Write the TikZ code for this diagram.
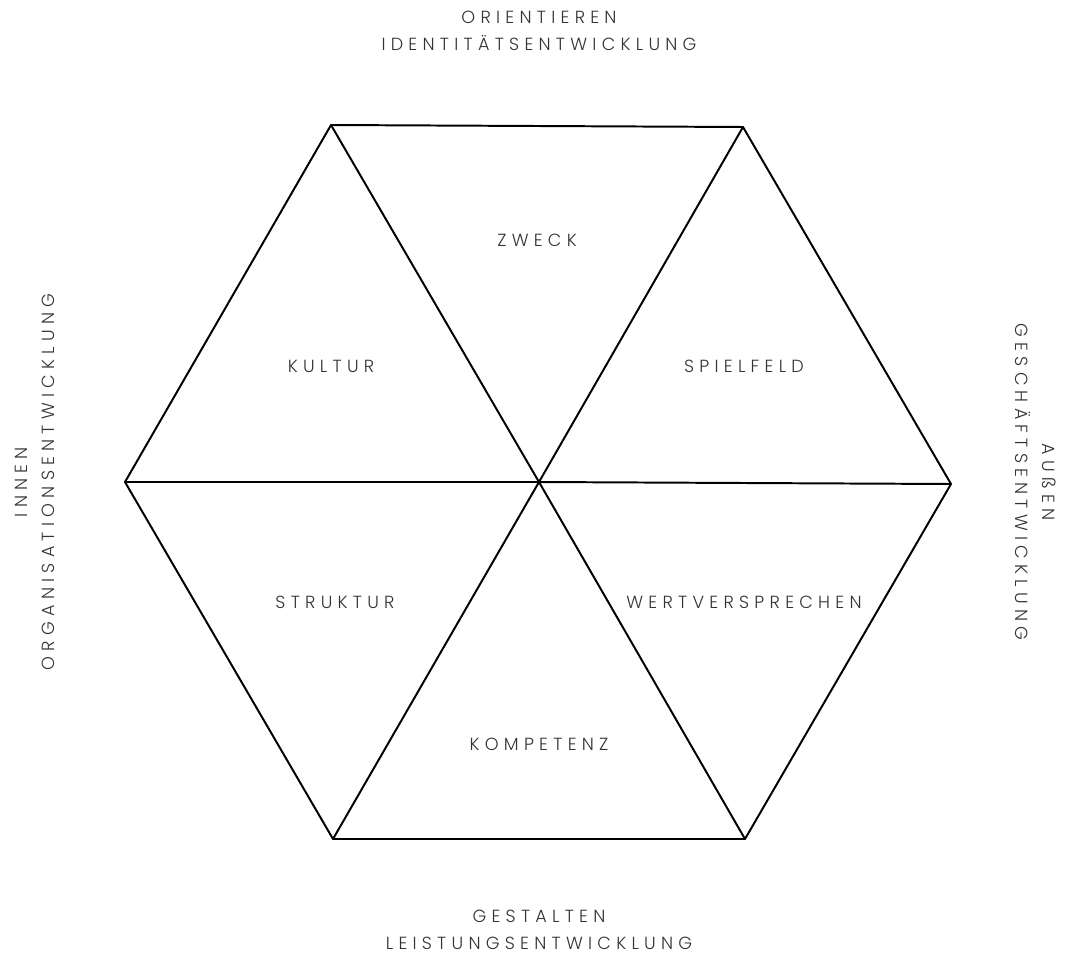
\documentclass[tikz,border=0pt]{standalone}
\usepackage{fontspec}
\setmainfont{Poppins}[UprightFont={* Light},LetterSpace=30]
\usepackage{tikz}

\begin{document}
\begin{tikzpicture}[x=0.025cm,y=-0.025cm,font=\fontsize{12.5}{19}\selectfont]
  \tikzset{
    edge/.style={line width=1.4pt,line join=round},
    lbl/.style={text=black!80,inner sep=0pt,align=center},
  }
  \useasboundingbox (0,0) rectangle (1066,960);
  % corners of the hexagon
  \coordinate (tl) at (331,125);
  \coordinate (tr) at (743,127);
  \coordinate (r)  at (951,484);
  \coordinate (br) at (745,839);
  \coordinate (bl) at (333,839);
  \coordinate (l)  at (125,482);
  \coordinate (c)  at (539,482);
  \draw[edge] (tl) -- (tr) -- (r) -- (br) -- (bl) -- (l) -- cycle;
  \draw[edge] (tl) -- (c) -- (br);
  \draw[edge] (tr) -- (c) -- (bl);
  \draw[edge] (l) -- (c) -- (r);
  % fields
  \node[lbl] (zweck)  at (537,240) {ZWECK};
  \node[lbl] (kultur) at (331,366) {KULTUR};
  \node[lbl] (spiel)  at (744,366) {SPIELFELD};
  \node[lbl] (strukt) at (335,602) {STRUKTUR};
  \node[lbl] (wert)   at (744,602) {WERTVERSPRECHEN};
  \node[lbl] (komp)   at (539,744) {KOMPETENZ};
  % axes
  \node[lbl] (oben)   at (539,31)  {ORIENTIEREN\\IDENTITÄTSENTWICKLUNG};
  \node[lbl] (unten)  at (539,930) {GESTALTEN\\LEISTUNGSENTWICKLUNG};
  \node[lbl,rotate=90]  (innen)  at (35,482)   {INNEN\\ORGANISATIONSENTWICKLUNG};
  \node[lbl,rotate=-90] (aussen) at (1036,482) {AUßEN\\GESCHÄFTSENTWICKLUNG};
\end{tikzpicture}
\end{document}
